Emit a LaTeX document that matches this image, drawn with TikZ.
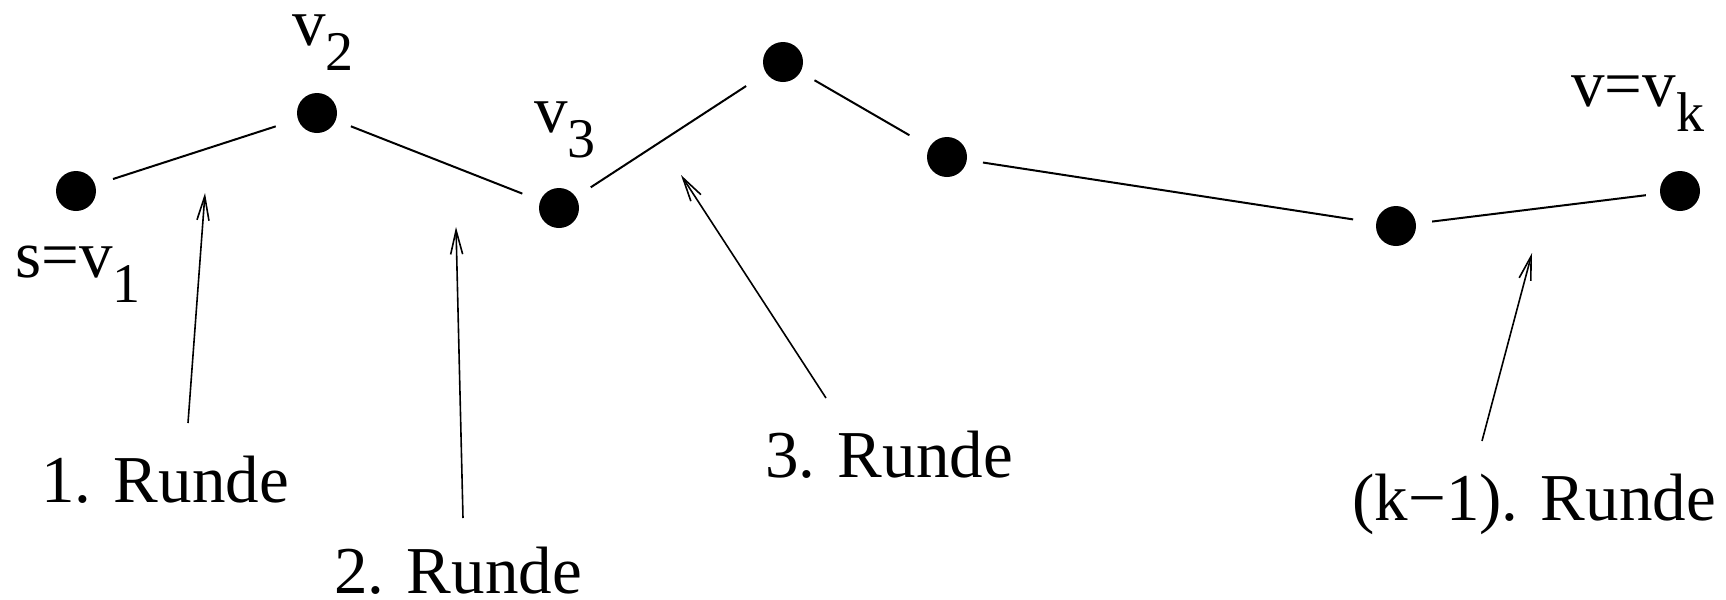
\documentclass[tikz,border=0pt]{standalone}
\usepackage{fontspec}
\setmainfont{Liberation Serif}
\usetikzlibrary{arrows.meta}
\newcommand\lowsub[1]{\raisebox{-12.5pt}{\fontsize{28}{30}\selectfont #1}}
\begin{document}
\begin{tikzpicture}[x=0.5pt,y=-0.5pt,
  dot/.style={circle,fill=black,inner sep=0pt,minimum size=20pt},
  lbl/.style={anchor=base west,inner sep=0pt,font=\fontsize{33.5}{40}\selectfont},
  link/.style={line width=1pt},
  pointer/.style={line width=0.8pt,-{Straight Barb[length=12pt,width=6pt]}}]
\useasboundingbox (0,0) rectangle (1726,600);
% vertices
\node[dot] (v1) at (76,191) {};
\node[dot] (v2) at (317,113) {};
\node[dot] (v3) at (559,208) {};
\node[dot] (v4) at (783,62) {};
\node[dot] (v5) at (947,157) {};
\node[dot] (v6) at (1396,226) {};
\node[dot] (vk) at (1680,191) {};
% path edges
\draw[link,shorten <=9.25pt,shorten >=11.5pt] (v1) -- (v2);
\draw[link,shorten <=8pt,shorten >=9.5pt] (v2) -- (v3);
\draw[link,shorten <=8.75pt,shorten >=11.8pt] (v3) -- (v4);
\draw[link,shorten <=8pt,shorten >=11.5pt] (v4) -- (v5);
\draw[link,shorten <=8pt,shorten >=11.5pt] (v5) -- (v6);
\draw[link,shorten <=8pt,shorten >=7pt] (v6) -- (vk);
% vertex labels
\node[lbl] (l1) at (15,277) {s=v\lowsub{1}};
\node[lbl] (l2) at (292,45) {v\lowsub{2}};
\node[lbl] (l3) at (534,132) {v\lowsub{3}};
\node[lbl] (lk) at (1571,106) {v=v\lowsub{k}};
% round labels
\node[lbl] (r1) at (41,502) {1. Runde};
\node[lbl] (r2) at (334,593) {2. Runde};
\node[lbl] (r3) at (765,477) {3. Runde};
\node[lbl] (rk) at (1352,520) {(k−1). Runde};
% pointer arrows
\coordinate (t1) at (188,423); \coordinate (h1) at (205,193);
\coordinate (t2) at (463,518); \coordinate (h2) at (456,227);
\coordinate (t3) at (826,398); \coordinate (h3) at (681,175);
\coordinate (t4) at (1482,441); \coordinate (h4) at (1532,253);
\draw[pointer] (t1) -- (h1);
\draw[pointer] (t2) -- (h2);
\draw[pointer] (t3) -- (h3);
\draw[pointer] (t4) -- (h4);
\end{tikzpicture}
\end{document}
